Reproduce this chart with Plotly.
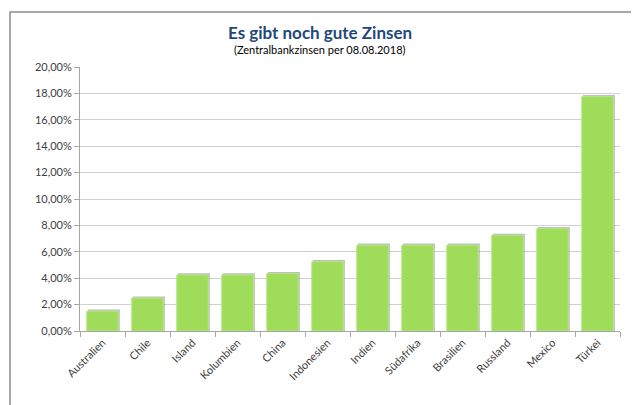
import plotly.graph_objects as go

categories = ["Australien", "Chile", "Island", "Kolumbien", "China", "Indonesien",
              "Indien", "Südafrika", "Brasilien", "Russland", "Mexico", "Türkei"]
rates_pct = [1.50, 2.50, 4.25, 4.25, 4.35, 5.25, 6.50, 6.50, 6.50, 7.25, 7.75, 17.75]
title_text = "Es gibt noch gute Zinsen"
subtitle_text = "(Zentralbankzinsen per 08.08.2018)"
y_ticks = [0, 0.02, 0.04, 0.06, 0.08, 0.10, 0.12, 0.14, 0.16, 0.18, 0.20]

values = [v / 100 for v in rates_pct]
shadow = [v + 0.0012 for v in values]

# page body has an 8px margin; design in reference pixel coords and shift
OFF = 8
W, H = 639 - OFF, 405 - OFF
L, T = 80 - OFF, 67 - OFF
PW, PH = 540, 264
R = W - L - PW
B = H - T - PH

def px_x(x):
    return (x - OFF - L) / PW

def px_y(y):
    return (T + PH - (y - OFF)) / PH

fig = go.Figure()
fig.add_trace(go.Bar(
    x=categories, y=shadow, width=0.71, offset=-0.325,
    marker=dict(color="rgba(110,110,110,0.45)", line=dict(width=0)),
    hoverinfo="skip", showlegend=False,
))
fig.add_trace(go.Bar(
    x=categories, y=values, width=0.70, offset=-0.35,
    marker=dict(color="#9EDC5A", line=dict(color="#B6E884", width=1)),
    showlegend=False,
))

fig.update_layout(
    width=W, height=H,
    margin=dict(l=L, r=R, t=T, b=B),
    paper_bgcolor="white", plot_bgcolor="white",
    barmode="overlay",
    separators=",.",
    font=dict(family="Lato, Open Sans, sans-serif", color="#404040", size=11),
    annotations=[
        dict(text="<b>" + title_text + "</b>", xref="paper", yref="paper",
             x=px_x(320), y=px_y(33), xanchor="center", yanchor="middle",
             showarrow=False, font=dict(size=17, color="#1F497D")),
        dict(text=subtitle_text, xref="paper", yref="paper",
             x=px_x(320), y=px_y(50), xanchor="center", yanchor="middle",
             showarrow=False, font=dict(size=11, color="#000000")),
    ],
    shapes=[dict(type="rect", xref="paper", yref="paper",
                 x0=px_x(10), x1=px_x(635), y0=px_y(420), y1=px_y(12),
                 line=dict(color="#8C8C8C", width=1.5), fillcolor="rgba(0,0,0,0)",
                 layer="below")],
)
fig.update_xaxes(
    automargin=False,
    showgrid=False, showline=True, linecolor="#A6A6A6", linewidth=1,
    ticks="outside", tickson="boundaries", ticklen=5, tickcolor="#A6A6A6",
    tickangle=-45, tickfont=dict(size=11, color="#404040"),
)
fig.update_yaxes(
    automargin=False,
    range=[0, 0.20], tickvals=y_ticks, tickformat=".2%",
    showgrid=True, gridcolor="#D0D0D0", gridwidth=1,
    showline=True, linecolor="#A6A6A6", linewidth=1,
    ticks="outside", ticklen=5, tickcolor="#A6A6A6",
    tickfont=dict(size=11, color="#404040"), zeroline=False,
)

fig.write_html("out.html")
